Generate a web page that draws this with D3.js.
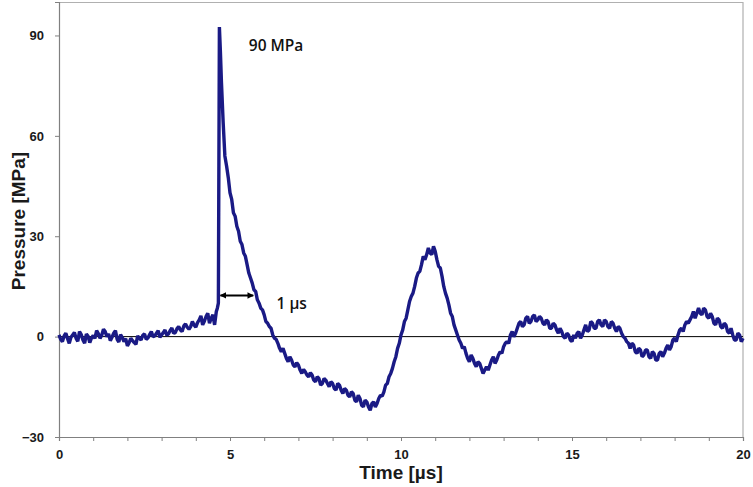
<!DOCTYPE html>
<html>
<head>
<meta charset="utf-8">
<script src="https://cdn.jsdelivr.net/npm/d3@7/dist/d3.min.js"></script>
<style>
  body { margin: 0; background: #fff; }
  #chart svg { display: block; }
</style>
</head>
<body>
<div id="chart"></div>
<script>
var timeUs = [
  0.0, 0.05, 0.1, 0.15, 0.2, 0.25, 0.3, 0.35, 0.4, 0.45,
  0.5, 0.55, 0.6, 0.65, 0.7, 0.75, 0.8, 0.85, 0.9, 0.95,
  1.0, 1.05, 1.1, 1.15, 1.2, 1.25, 1.3, 1.35, 1.4, 1.45,
  1.5, 1.55, 1.6, 1.65, 1.7, 1.75, 1.8, 1.85, 1.9, 1.95,
  2.0, 2.05, 2.1, 2.15, 2.2, 2.25, 2.3, 2.35, 2.4, 2.45,
  2.5, 2.55, 2.6, 2.65, 2.7, 2.75, 2.8, 2.85, 2.9, 2.95,
  3.0, 3.05, 3.1, 3.15, 3.2, 3.25, 3.3, 3.35, 3.4, 3.45,
  3.5, 3.55, 3.6, 3.65, 3.7, 3.75, 3.8, 3.85, 3.9, 3.95,
  4.0, 4.05, 4.1, 4.15, 4.2, 4.25, 4.3, 4.35, 4.4, 4.45,
  4.5, 4.55, 4.6, 4.63, 4.66, 4.69, 4.72, 4.75, 4.8, 4.85,
  4.9, 4.95, 5.0, 5.05, 5.1, 5.15, 5.2, 5.25, 5.3, 5.35,
  5.4, 5.45, 5.5, 5.55, 5.6, 5.65, 5.7, 5.75, 5.8, 5.85,
  5.9, 5.95, 6.0, 6.05, 6.1, 6.15, 6.2, 6.25, 6.3, 6.35,
  6.4, 6.45, 6.5, 6.55, 6.6, 6.65, 6.7, 6.75, 6.8, 6.85,
  6.9, 6.95, 7.0, 7.05, 7.1, 7.15, 7.2, 7.25, 7.3, 7.35,
  7.4, 7.45, 7.5, 7.55, 7.6, 7.65, 7.7, 7.75, 7.8, 7.85,
  7.9, 7.95, 8.0, 8.05, 8.1, 8.15, 8.2, 8.25, 8.3, 8.35,
  8.4, 8.45, 8.5, 8.55, 8.6, 8.65, 8.7, 8.75, 8.8, 8.85,
  8.9, 8.95, 9.0, 9.05, 9.1, 9.15, 9.2, 9.25, 9.3, 9.35,
  9.4, 9.45, 9.5, 9.55, 9.6, 9.65, 9.7, 9.75, 9.8, 9.85,
  9.9, 9.95, 10.0, 10.05, 10.1, 10.15, 10.2, 10.25, 10.3, 10.35,
  10.4, 10.45, 10.5, 10.55, 10.6, 10.65, 10.7, 10.75, 10.8, 10.85,
  10.9, 10.95, 11.0, 11.05, 11.1, 11.15, 11.2, 11.25, 11.3, 11.35,
  11.4, 11.45, 11.5, 11.55, 11.6, 11.65, 11.7, 11.75, 11.8, 11.85,
  11.9, 11.95, 12.0, 12.05, 12.1, 12.15, 12.2, 12.25, 12.3, 12.35,
  12.4, 12.45, 12.5, 12.55, 12.6, 12.65, 12.7, 12.75, 12.8, 12.85,
  12.9, 12.95, 13.0, 13.05, 13.1, 13.15, 13.2, 13.25, 13.3, 13.35,
  13.4, 13.45, 13.5, 13.55, 13.6, 13.65, 13.7, 13.75, 13.8, 13.85,
  13.9, 13.95, 14.0, 14.05, 14.1, 14.15, 14.2, 14.25, 14.3, 14.35,
  14.4, 14.45, 14.5, 14.55, 14.6, 14.65, 14.7, 14.75, 14.8, 14.85,
  14.9, 14.95, 15.0, 15.05, 15.1, 15.15, 15.2, 15.25, 15.3, 15.35,
  15.4, 15.45, 15.5, 15.55, 15.6, 15.65, 15.7, 15.75, 15.8, 15.85,
  15.9, 15.95, 16.0, 16.05, 16.1, 16.15, 16.2, 16.25, 16.3, 16.35,
  16.4, 16.45, 16.5, 16.55, 16.6, 16.65, 16.7, 16.75, 16.8, 16.85,
  16.9, 16.95, 17.0, 17.05, 17.1, 17.15, 17.2, 17.25, 17.3, 17.35,
  17.4, 17.45, 17.5, 17.55, 17.6, 17.65, 17.7, 17.75, 17.8, 17.85,
  17.9, 17.95, 18.0, 18.05, 18.1, 18.15, 18.2, 18.25, 18.3, 18.35,
  18.4, 18.45, 18.5, 18.55, 18.6, 18.65, 18.7, 18.75, 18.8, 18.85,
  18.9, 18.95, 19.0, 19.05, 19.1, 19.15, 19.2, 19.25, 19.3, 19.35,
  19.4, 19.45, 19.5, 19.55, 19.6, 19.65, 19.7, 19.75, 19.8, 19.85,
  19.9, 19.95, 20.0
];
var pressureMPa = [
  0.5, -0.8, -1.5, 0.2, 1.0, -0.6, -2.0, -0.2, 0.5, 1.2,
  -0.5, -1.4, 1.5, 0.6, -1.0, -2.0, 0.8, 0.1, -1.8, -0.4,
  0.3, -0.5, 1.8, 0.9, -0.5, 0.4, 2.2, 1.5, 0.0, 0.8,
  -1.2, -0.2, 1.0, 1.8, -0.8, -1.6, 0.6, -0.3, -1.5, -0.6,
  -2.8, -1.8, -0.5, -1.2, -1.8, -2.3, 0.2, -0.5, -1.0, 0.4,
  0.8, -0.8, -0.4, 0.6, 1.5, 0.0, 0.2, 1.0, 1.8, -0.2,
  0.5, 1.2, 2.0, 0.4, 0.8, 1.8, 2.6, 1.0, 1.2, 2.4,
  3.0, 2.0, 1.5, 3.2, 3.8, 2.8, 2.2, 3.0, 4.5, 3.5,
  2.8, 4.2, 5.0, 6.2, 3.5, 4.6, 6.0, 7.0, 4.0, 5.5,
  6.5, 3.5, 7.5, 8.5, 10.0, 92.5, 85.0, 76.0, 64.0, 54.0,
  51.0, 47.5, 43.0, 41.0, 37.0, 36.0, 33.0, 31.5, 28.5, 27.5,
  25.0, 24.0, 21.5, 19.0, 17.5, 16.0, 14.0, 13.5, 11.0, 10.0,
  8.5, 8.0, 6.5, 4.5, 4.0, 3.0, 2.5, 0.5, -0.5, -0.8,
  -2.0, -3.5, -4.5, -3.5, -5.0, -6.5, -7.5, -6.0, -7.0, -8.5,
  -9.0, -7.8, -8.5, -10.0, -11.0, -9.8, -10.5, -11.5, -12.0, -10.8,
  -11.5, -13.0, -13.5, -12.0, -12.5, -14.5, -14.0, -12.5, -13.0, -14.0,
  -15.0, -13.5, -14.0, -15.5, -16.0, -14.0, -14.5, -16.0, -17.0, -15.5,
  -16.0, -17.5, -18.0, -16.5, -17.0, -19.0, -19.5, -17.5, -18.5, -20.5,
  -21.0, -19.0, -19.5, -21.0, -22.0, -20.0, -19.5, -21.0, -20.0, -18.5,
  -17.5, -17.8, -16.5, -14.5, -14.0, -12.0, -11.0, -9.5, -7.5, -6.0,
  -3.5, -2.0, 0.5, 2.0, 4.5, 5.5, 8.0, 10.5, 12.0, 13.0,
  15.0, 17.5, 19.0, 19.5, 21.5, 24.0, 23.0, 24.5, 26.5, 25.0,
  24.5, 27.0, 25.5, 23.0, 21.0, 20.5, 18.0, 15.0, 13.0, 11.5,
  9.5, 7.0, 6.0, 3.5, 2.0, 0.5, -1.0, -2.0, -3.5, -3.0,
  -5.0, -6.5, -7.5, -5.5, -6.5, -8.0, -9.0, -7.5, -8.0, -9.5,
  -11.0, -10.0, -9.0, -10.0, -8.5, -7.0, -6.0, -8.0, -7.0, -5.5,
  -4.5, -5.0, -3.0, -2.0, -1.5, -2.0, 0.5, 1.5, 0.0, 1.0,
  2.5, 4.0, 4.5, 3.0, 3.5, 5.5, 6.0, 4.0, 4.5, 6.0,
  6.5, 4.5, 5.0, 6.0, 5.5, 4.0, 3.5, 5.0, 4.5, 2.5,
  2.5, 4.0, 3.5, 2.0, 1.0, 2.5, 1.5, 0.0, -0.5, 1.0,
  0.5, -1.0, -1.5, 0.5, -0.5, 1.0, 1.5, -0.5, 0.5, 2.0,
  3.5, 1.5, 2.0, 4.5, 4.0, 2.5, 2.5, 4.5, 5.0, 3.5,
  3.0, 5.0, 4.5, 3.0, 2.5, 4.5, 4.0, 2.5, 1.5, 3.0,
  2.5, 1.0, 0.0, -0.5, -1.5, -2.0, -3.5, -2.0, -2.5, -4.5,
  -5.0, -3.5, -4.0, -6.0, -5.5, -4.0, -4.0, -6.0, -6.5, -4.5,
  -5.0, -7.0, -7.0, -5.0, -4.5, -6.0, -5.0, -3.5, -2.5, -4.0,
  -3.0, -1.0, -0.5, -1.5, 0.5, 2.0, 2.5, 1.5, 3.5, 4.5,
  4.0, 5.0, 6.0, 7.5, 5.5, 7.0, 8.5, 7.0, 6.5, 8.5,
  8.0, 6.0, 5.5, 7.0, 6.0, 4.0, 3.5, 5.5, 5.0, 3.0,
  2.5, 4.0, 3.5, 1.5, 1.0, 2.5, 0.5, -1.0, -1.0, 1.0,
  0.5, -1.5, -0.5
];

var xTickLabels = [0, 5, 10, 15, 20];
var xMinorTicks = d3.range(0, 21, 1);
var yTickLabels = [-30, 0, 30, 60, 90];

// annotation: 1 us width arrow and peak label
var arrowFrom = 4.72, arrowTo = 5.68, arrowLevel = 12.3;
var peakLabel = "90 MPa", peakLabelAt = [5.55, 85.5];
var widthLabel = "1 µs", widthLabelAt = [6.36, 8.4];

var svgWidth = 753, svgHeight = 487;
var margin = { top: 2, right: 10, bottom: 50, left: 59 };
var width = svgWidth - margin.left - margin.right;
var height = svgHeight - margin.top - margin.bottom;

var svg = d3.select("#chart").append("svg")
  .attr("width", svgWidth)
  .attr("height", svgHeight);

var chartGroup = svg.append("g")
  .attr("transform", `translate(${margin.left}, ${margin.top})`);

var x = d3.scaleLinear().domain([0, 20]).range([0, width]);
var y = d3.scaleLinear().domain([-30, 100]).range([height, 0]);

// frame top + right
chartGroup.append("path")
  .attr("d", `M0,0.5H${width}V${height}`)
  .attr("fill", "none")
  .attr("stroke", "#b0b0b0")
  .attr("stroke-width", 1.2);

// zero line
chartGroup.append("line")
  .attr("x1", 0).attr("x2", width)
  .attr("y1", y(0)).attr("y2", y(0))
  .attr("stroke", "#000")
  .attr("stroke-width", 1);

// axes
var xAxis = d3.axisBottom(x)
  .tickValues(xMinorTicks)
  .tickSize(4)
  .tickPadding(9)
  .tickFormat(d => xTickLabels.indexOf(d) >= 0 ? d : "");
var yAxis = d3.axisLeft(y)
  .tickValues(yTickLabels)
  .tickSize(4)
  .tickPadding(11);

var gx = chartGroup.append("g")
  .attr("transform", `translate(0, ${height})`)
  .call(xAxis);
var gy = chartGroup.append("g").call(yAxis);

[gx, gy].forEach(function(g) {
  g.select(".domain").attr("stroke", "#808080").attr("stroke-width", 1.2);
  g.selectAll(".tick line").attr("stroke", "#808080");
  g.selectAll(".tick text")
    .attr("fill", "#1a1a1a")
    .attr("font-family", "Liberation Sans, Arial, sans-serif")
    .attr("font-size", "13px")
    .style("font-weight", "bold");
});

// the trace
var points = timeUs.map((t, i) => [t, pressureMPa[i]]);
var line = d3.line().x(d => x(d[0])).y(d => y(d[1]));
chartGroup.append("path")
  .datum(points)
  .attr("d", line)
  .attr("fill", "none")
  .attr("stroke", "#1a1a85")
  .attr("stroke-width", 3.4)
  .attr("stroke-linejoin", "bevel");

// double arrow
var defs = svg.append("defs");
defs.append("marker")
  .attr("id", "head")
  .attr("viewBox", "0 0 10 10")
  .attr("refX", 9).attr("refY", 5)
  .attr("markerWidth", 3.2).attr("markerHeight", 3.2)
  .attr("orient", "auto-start-reverse")
  .append("path")
  .attr("d", "M0,0L10,5L0,10z")
  .attr("fill", "#000");

chartGroup.append("line")
  .attr("x1", x(arrowFrom)).attr("x2", x(arrowTo))
  .attr("y1", y(arrowLevel)).attr("y2", y(arrowLevel))
  .attr("stroke", "#000")
  .attr("stroke-width", 2)
  .attr("marker-start", "url(#head)")
  .attr("marker-end", "url(#head)");

// annotation text
chartGroup.append("text")
  .attr("x", x(peakLabelAt[0])).attr("y", y(peakLabelAt[1]))
  .attr("font-family", "Open Sans, sans-serif")
  .attr("font-size", "15.5px")
  .attr("font-weight", 600)
  .attr("fill", "#111")
  .text(peakLabel);

chartGroup.append("text")
  .attr("x", x(widthLabelAt[0])).attr("y", y(widthLabelAt[1]))
  .attr("font-family", "Open Sans, sans-serif")
  .attr("font-size", "15.5px")
  .attr("font-weight", 600)
  .attr("fill", "#111")
  .text(widthLabel);

// axis titles
chartGroup.append("text")
  .attr("x", width / 2)
  .attr("y", height + 42)
  .attr("text-anchor", "middle")
  .attr("font-family", "Liberation Sans, Arial, sans-serif")
  .attr("font-size", "19px")
  .attr("fill", "#1a1a1a")
  .style("font-weight", "bold")
  .text("Time [µs]");

chartGroup.append("text")
  .attr("transform", "rotate(-90)")
  .attr("x", 0 - (y(0) + y(90)) / 2 - 35)
  .attr("y", -34)
  .attr("text-anchor", "middle")
  .attr("font-family", "Liberation Sans, Arial, sans-serif")
  .attr("font-size", "19px")
  .attr("fill", "#1a1a1a")
  .style("font-weight", "bold")
  .text("Pressure [MPa]");
</script>
</body>
</html>
